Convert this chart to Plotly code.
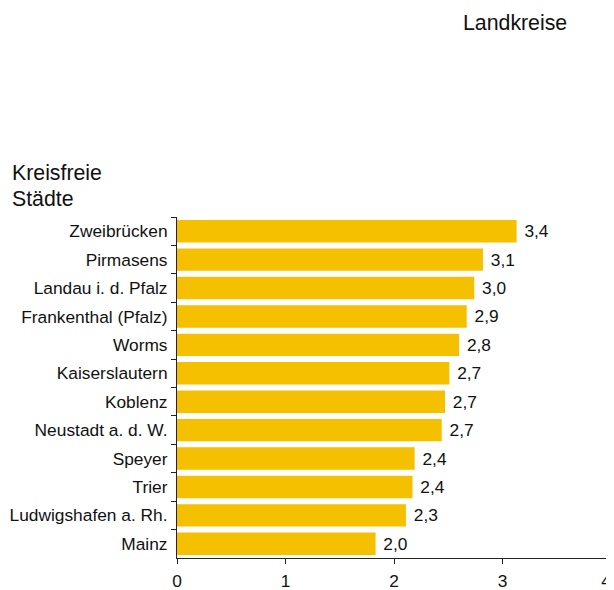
import plotly.graph_objects as go

categories = ["Zweibrücken", "Pirmasens", "Landau i. d. Pfalz", "Frankenthal (Pfalz)",
              "Worms", "Kaiserslautern", "Koblenz", "Neustadt a. d. W.",
              "Speyer", "Trier", "Ludwigshafen a. Rh.", "Mainz"]
bar_values = [3.13, 2.82, 2.74, 2.67, 2.60, 2.51, 2.47, 2.44, 2.19, 2.17, 2.11, 1.83]
value_labels = ["3,4", "3,1", "3,0", "2,9", "2,8", "2,7", "2,7", "2,7", "2,4", "2,4", "2,3", "2,0"]
x_ticks = [0, 1, 2, 3, 4]
x_tick_labels = ["0", "1", "2", "3", "4"]

FONT = "Liberation Sans, Arial, sans-serif"
FS = 17.33
OFF = 8  # default page body margin
W, H = 614 - OFF, 590 - OFF
L, R, T, B = 177 - OFF, 3, 217 - OFF, 32
pw, ph = W - L - R, H - T - B

def px_x(x):
    return (x - OFF - L) / pw

def px_y(y):
    return (H - B - (y - OFF)) / ph

fig = go.Figure()
fig.add_trace(go.Bar(
    y=categories, x=bar_values, orientation="h",
    marker=dict(color="#F5C000", line=dict(width=0)),
    text=[" " + t for t in value_labels], textposition="outside", cliponaxis=False,
    textfont=dict(family=FONT, size=FS, color="#111111"),
    hoverinfo="skip",
))
# empty helper trace so that the overlaid axis carrying the last tick is drawn
fig.add_trace(go.Scatter(x=[None], y=[None], xaxis="x2", yaxis="y", mode="markers",
                         showlegend=False, hoverinfo="skip"))

axis_common = dict(showgrid=False, zeroline=False, linecolor="#222222", linewidth=1,
                   ticks="outside", ticklen=5, tickcolor="#222222", tickwidth=1,
                   automargin=False)

fig.update_layout(
    width=W, height=H,
    margin=dict(l=L, r=R, t=T, b=B, autoexpand=False),
    paper_bgcolor="white", plot_bgcolor="white",
    bargap=0.21, showlegend=False,
    font=dict(family=FONT, size=FS, color="#111111"),
    xaxis=dict(range=[0, 4], tickvals=x_ticks[:-1], ticktext=x_tick_labels[:-1],
               showline=True, ticklabelstandoff=2,
               tickfont=dict(family=FONT, size=FS, color="#111111"), **axis_common),
    # last tick: label pulled left so it ends at the axis end, as in the reference
    xaxis2=dict(overlaying="x", anchor="y", side="bottom", range=[0, 4],
                tickvals=x_ticks[-1:], ticktext=x_tick_labels[-1:],
                ticklabelshift=-5, ticklabeloverflow="allow",
                showline=False, ticklabelstandoff=2,
                tickfont=dict(family=FONT, size=FS, color="#111111"), **axis_common),
    yaxis=dict(categoryorder="array", categoryarray=categories, autorange="reversed",
               showline=True, tickson="boundaries", ticklabelstandoff=5,
               tickfont=dict(family=FONT, size=FS, color="#111111"), **axis_common),
    annotations=[
        dict(text="Landkreise", xref="paper", yref="paper", x=px_x(460.5), y=px_y(23),
             xanchor="left", yanchor="middle", showarrow=False,
             font=dict(family=FONT, size=21.3, color="#111111")),
        dict(text="Kreisfreie", xref="paper", yref="paper", x=px_x(9.5), y=px_y(173.5),
             xanchor="left", yanchor="middle", showarrow=False,
             font=dict(family=FONT, size=21.3, color="#111111")),
        dict(text="Städte", xref="paper", yref="paper", x=px_x(9.5), y=px_y(198.5),
             xanchor="left", yanchor="middle", showarrow=False,
             font=dict(family=FONT, size=21.3, color="#111111")),
    ],
)

fig.write_html("out.html")
